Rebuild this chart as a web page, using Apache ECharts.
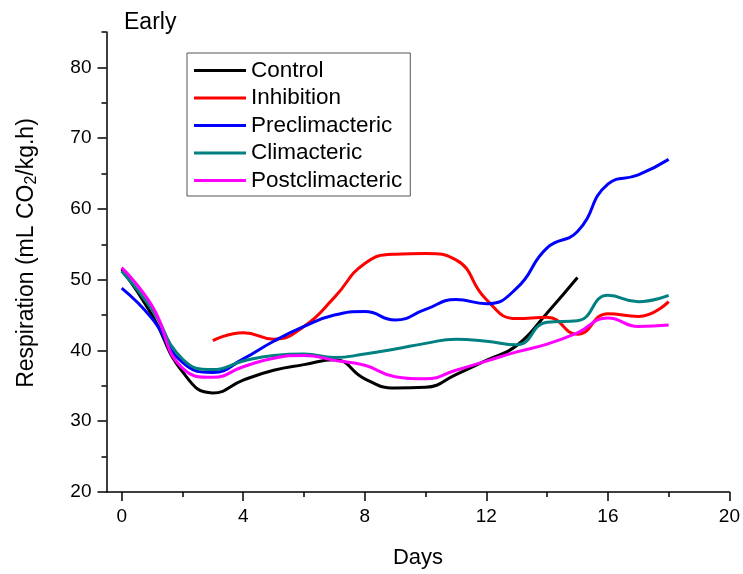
<!DOCTYPE html>
<html>
<head>
<meta charset="utf-8">
<script src="https://cdn.jsdelivr.net/npm/echarts@6/dist/echarts.min.js"></script>
<style>
html,body{margin:0;padding:0;background:#fff;}
#chart{width:743px;height:574px;}
</style>
</head>
<body>
<div id="chart"></div>
<script>
var seriesNames = ['Control', 'Inhibition', 'Preclimacteric', 'Climacteric', 'Postclimacteric'];
var seriesColors = ['#000000', '#ff0000', '#0000ff', '#008080', '#ff00ff'];

var controlDays = [0,1,2,3,4,5,6,7,8,9,10,11,12,13,14,15];
var controlValues = [51.5,45.0,37.0,34.0,35.8,37.2,38.0,38.7,36.0,34.7,34.8,36.6,38.6,40.7,45.3,50.3];

var inhibitionDays = [3,4,5,6,7,8,9,10,11,12,13,14,15,16,17,18];
var inhibitionValues = [41.4,42.5,41.6,43.4,47.5,52.3,53.6,53.7,52.8,47.2,44.5,44.7,42.3,45.2,44.8,46.9];

var preDays = [0,1,2,3,4,5,6,7,8,9,10,11,12,13,14,15,16,17,18];
var preValues = [48.8,44.5,38.3,36.9,38.8,41.3,43.4,45.0,45.5,44.3,45.8,47.2,46.6,48.8,54.5,56.8,63.5,64.8,67.0];

var climDays = [0,1,2,3,4,5,6,7,8,9,10,11,12,13,14,15,16,17,18];
var climValues = [51.2,45.8,38.8,37.3,38.5,39.3,39.5,39.0,39.5,40.2,41.0,41.6,41.3,40.8,44.0,44.2,47.8,46.9,47.8];

var postDays = [0,1,2,3,4,5,6,7,8,9,10,11,12,13,14,15,16,17,18];
var postValues = [51.7,46.3,37.5,36.2,37.7,38.9,39.3,38.6,37.9,36.3,36.0,37.2,38.5,39.8,40.9,42.5,44.6,43.4,43.6];

var xMajorTicks = [0,4,8,12,16,20];
var xMinorTicks = [2,6,10,14,18];
var yMajorTicks = [20,30,40,50,60,70,80];
var yMinorTicks = [25,35,45,55,65,75,85];

var allDays = [controlDays, inhibitionDays, preDays, climDays, postDays];
var allValues = [controlValues, inhibitionValues, preValues, climValues, postValues];

function pairs(xs, ys) {
  return xs.map(function (x, i) { return [x, ys[i]]; });
}

var FONT = '"Liberation Sans", Arial, sans-serif';
var chart = echarts.init(document.getElementById('chart'), null, {renderer: 'canvas'});

var series = seriesNames.map(function (name, i) {
  return {
    name: name,
    type: 'line',
    xAxisIndex: 0,
    yAxisIndex: 0,
    data: pairs(allDays[i], allValues[i]),
    smooth: 0.5,
    showSymbol: false,
    symbol: 'none',
    lineStyle: {color: seriesColors[i], width: 3},
    itemStyle: {color: seriesColors[i]},
    animation: false
  };
});

chart.setOption({
  animation: false,
  backgroundColor: '#ffffff',
  textStyle: {fontFamily: FONT, color: '#000'},
  title: {
    text: 'Early',
    left: 119,
    top: 6,
    textStyle: {fontFamily: FONT, fontSize: 23, fontWeight: 'normal', color: '#000'}
  },
  legend: {
    orient: 'vertical',
    left: 187,
    top: 53,
    data: seriesNames,
    icon: 'rect',
    itemWidth: 52,
    itemHeight: 3,
    itemGap: 4.5,
    padding: [6, 8, 4, 7],
    borderColor: '#555',
    borderWidth: 1,
    textStyle: {fontFamily: FONT, fontSize: 22.5, color: '#000', lineHeight: 20}
  },
  grid: {left: 106.5, right: 12, top: 32, bottom: 81.5, containLabel: false},
  xAxis: [
    {
      type: 'value',
      min: -0.5,
      max: 20,
      name: 'Days',
      nameLocation: 'middle',
      nameGap: 55,
      nameTextStyle: {fontFamily: FONT, fontSize: 22, color: '#000'},
      axisLine: {show: true, onZero: false, lineStyle: {color: '#000', width: 1.5}},
      axisTick: {show: true, inside: false, length: 9, customValues: xMajorTicks, lineStyle: {color: '#000', width: 1.5}},
      axisLabel: {show: true, margin: 15, customValues: xMajorTicks, fontFamily: FONT, fontSize: 19, color: '#000'},
      splitLine: {show: false}
    },
    {
      type: 'value',
      min: -0.5,
      max: 20,
      position: 'bottom',
      axisLine: {show: false, onZero: false},
      axisTick: {show: true, inside: false, length: 5, customValues: xMinorTicks, lineStyle: {color: '#000', width: 1.5}},
      axisLabel: {show: false},
      splitLine: {show: false}
    }
  ],
  yAxis: [
    {
      type: 'value',
      min: 20,
      max: 85,
      name: 'Respiration (mL CO{sub|2}/kg.h)',
      nameLocation: 'middle',
      nameGap: 67,
      nameRotate: 90,
      nameTextStyle: {
        fontFamily: FONT, fontSize: 23, color: '#000',
        padding: [0, 0, 0, 18],
        rich: {sub: {fontFamily: FONT, fontSize: 16, color: '#000', verticalAlign: 'bottom', padding: [10, 0, 0, 0]}}
      },
      axisLine: {show: true, onZero: false, lineStyle: {color: '#000', width: 1.5}},
      axisTick: {show: true, inside: false, length: 9, customValues: yMajorTicks, lineStyle: {color: '#000', width: 1.5}},
      axisLabel: {show: true, margin: 15, customValues: yMajorTicks, fontFamily: FONT, fontSize: 19, color: '#000'},
      splitLine: {show: false}
    },
    {
      type: 'value',
      min: 20,
      max: 85,
      position: 'left',
      axisLine: {show: false, onZero: false},
      axisTick: {show: true, inside: false, length: 5, customValues: yMinorTicks, lineStyle: {color: '#000', width: 1.5}},
      axisLabel: {show: false},
      splitLine: {show: false}
    }
  ],
  series: series
});
</script>
</body>
</html>
